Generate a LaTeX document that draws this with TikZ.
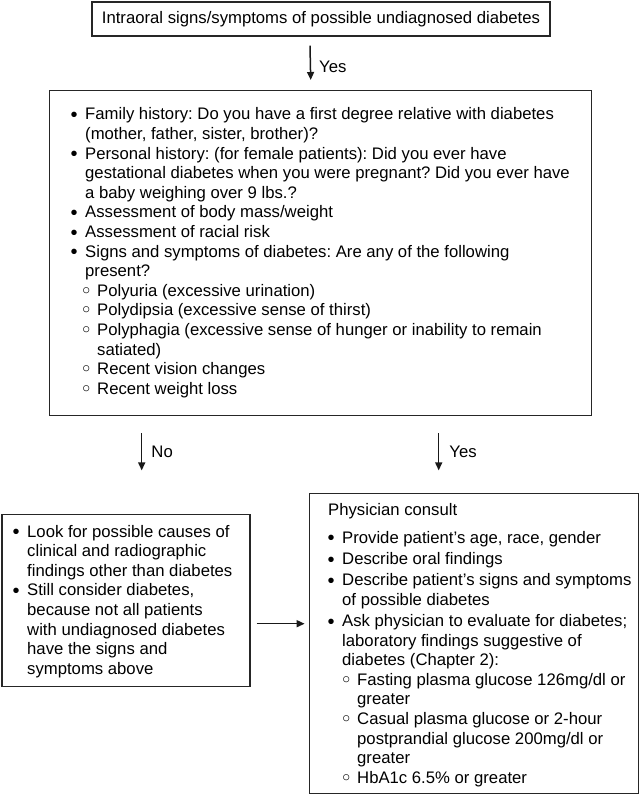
\documentclass[tikz,border=0pt]{standalone}
\usepackage{fontspec}
\setmainfont{Liberation Sans}
\newfontfamily\dvs{DejaVu Sans}
\usetikzlibrary{arrows.meta}
\frenchspacing
\newcommand{\txtsize}{\fontsize{16.7pt}{19.6pt}\selectfont}
\newcommand{\mkitem}[3]{\par\noindent\hangindent=#1\hangafter=0 \llap{\makebox[0pt]{#2}\hspace*{11pt}}#3\par}
\newcommand{\bt}{\raisebox{-1.8pt}{\fontsize{20pt}{19.6pt}\selectfont\textbullet}}
\newcommand{\wbt}{\raisebox{-2pt}{\dvs\fontsize{21pt}{19.6pt}\selectfont ◦}}
\begin{document}
\begin{tikzpicture}[x=1pt,y=-1pt,
  box/.style={draw=black!85, line width=1.4pt, inner sep=0pt},
  arr/.style={draw=black!90, line width=1.5pt, -{Triangle[length=8pt,width=7pt]}},
  lbl/.style={anchor=west, inner sep=0pt, font=\txtsize},
  txt/.style={anchor=base west, inner sep=0pt, font=\txtsize}]
\useasboundingbox (0,0) rectangle (640,794);

% boxes
\node[box, minimum width=458pt, minimum height=34pt, font=\txtsize] (topbox) at (321,19)
  {Intraoral signs/symptoms of possible undiagnosed diabetes};
\node[box, anchor=north west, minimum width=542pt, minimum height=325pt] (bigbox) at (49,90) {};
\node[box, anchor=north west, minimum width=248pt, minimum height=172pt] (lbox) at (1.2,514) {};
\node[box, anchor=north west, minimum width=329pt, minimum height=299.5pt] (rbox) at (309,493) {};

% texts
\node[txt] (bigtxt) at (85,120) {\parbox[t]{500pt}{\txtsize\raggedright
\mkitem{0pt}{\bt}{Family history: Do you have a first degree relative with diabetes\newline (mother, father, sister, brother)?}
\mkitem{0pt}{\bt}{Personal history: (for female patients): Did you ever have\newline gestational diabetes when you were pregnant? Did you ever have\newline a baby weighing over 9 lbs.?}
\mkitem{0pt}{\bt}{Assessment of body mass/weight}
\mkitem{0pt}{\bt}{Assessment of racial risk}
\mkitem{0pt}{\bt}{Signs and symptoms of diabetes: Are any of the following\newline present?}
\mkitem{12pt}{\wbt}{Polyuria (excessive urination)}
\mkitem{12pt}{\wbt}{Polydipsia (excessive sense of thirst)}
\mkitem{12pt}{\wbt}{Polyphagia (excessive sense of hunger or inability to remain\newline satiated)}
\mkitem{12pt}{\wbt}{Recent vision changes}
\mkitem{12pt}{\wbt}{Recent weight loss}}};

\node[txt] (ltxt) at (27,537) {\parbox[t]{240pt}{\txtsize\raggedright
\mkitem{0pt}{\bt}{Look for possible causes of\newline clinical and radiographic\newline findings other than diabetes}
\mkitem{0pt}{\bt}{Still consider diabetes,\newline because not all patients\newline with undiagnosed diabetes\newline have the signs and\newline symptoms above}}};

\node[txt] (phys) at (328,515) {Physician consult};
\node[txt] (rtxt) at (342,543) {\parbox[t]{300pt}{\txtsize\raggedright
\mkitem{0pt}{\bt}{Provide patient’s age, race, gender}
\vspace{1.7pt}
\mkitem{0pt}{\bt}{Describe oral findings}
\vspace{1.7pt}
\mkitem{0pt}{\bt}{Describe patient’s signs and symptoms\newline of possible diabetes}
\vspace{1.7pt}
\mkitem{0pt}{\bt}{Ask physician to evaluate for diabetes;\newline laboratory findings suggestive of\newline diabetes (Chapter 2):}
\mkitem{15pt}{\wbt}{Fasting plasma glucose 126mg/dl or\newline greater}
\mkitem{15pt}{\wbt}{Casual plasma glucose or 2-hour\newline postprandial glucose 200mg/dl or\newline greater}
\mkitem{15pt}{\wbt}{HbA1c 6.5\% or greater}}};

% connectors
\draw[arr] ([xshift=-11pt,yshift=-9pt]topbox.south) --
  node[lbl, pos=0.62, xshift=8pt] (lyes1) {Yes} ([xshift=-10pt,yshift=10pt]bigbox.north);
\draw[arr] ([xshift=-179pt,yshift=-17pt]bigbox.south) --
  node[lbl, pos=0.5, xshift=9pt] (lno) {No} ([xshift=-179pt,yshift=-54pt]bigbox.south);
\draw[arr] ([xshift=118pt,yshift=-17pt]bigbox.south) --
  node[lbl, pos=0.5, xshift=10pt] (lyes2) {Yes} ([xshift=118pt,yshift=-54pt]bigbox.south);
\draw[arr] ([xshift=6pt,yshift=-23pt]lbox.east) -- ++(48,0);
\end{tikzpicture}
\end{document}
